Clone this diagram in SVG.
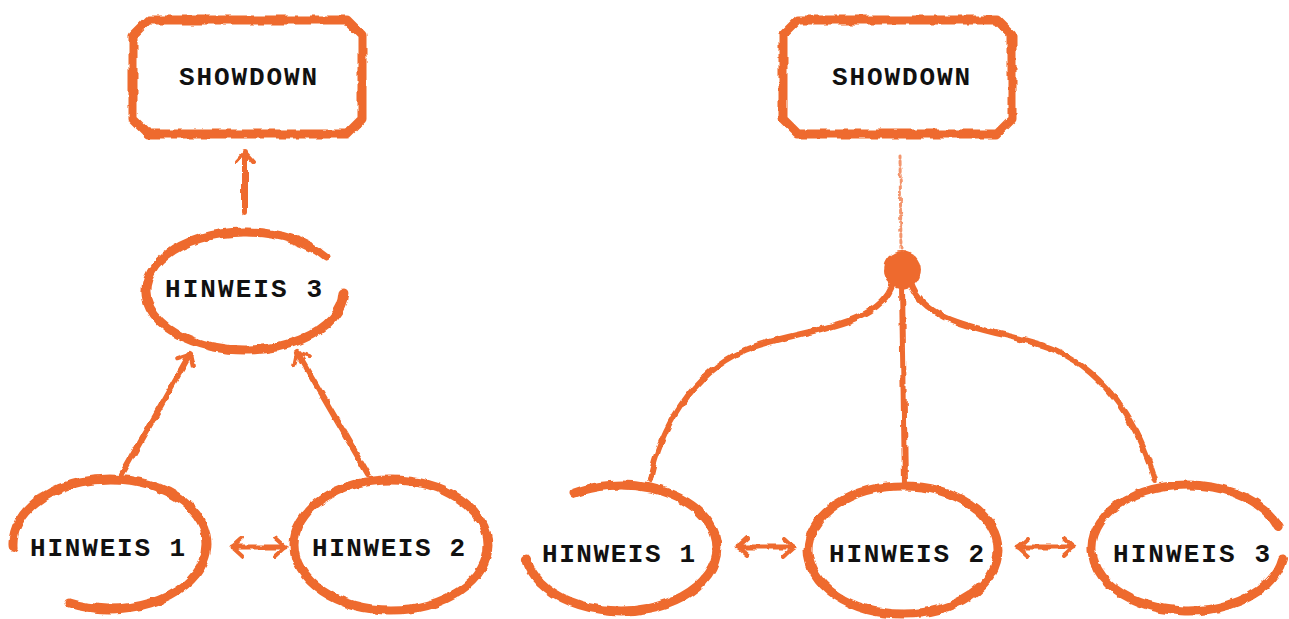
<svg xmlns="http://www.w3.org/2000/svg" width="1289" height="619" viewBox="0 0 1289 619">
<defs>
<style>
.s{fill:none;stroke:#EE6A2F;stroke-linecap:round;stroke-linejoin:round}
.b{stroke-width:9}
.c{stroke-width:6}
.t{font-family:"Liberation Mono","DejaVu Sans Mono",monospace;font-weight:bold;font-size:26px;fill:#111}
</style>
<filter id="rough" x="-5%" y="-5%" width="110%" height="110%">
<feTurbulence type="fractalNoise" baseFrequency="0.09" numOctaves="2" seed="4" result="n"/>
<feDisplacementMap in="SourceGraphic" in2="n" scale="5" xChannelSelector="R" yChannelSelector="G"/>
</filter>
<marker id="ah" viewBox="0 0 14 22" refX="12" refY="11" markerWidth="14" markerHeight="22" markerUnits="userSpaceOnUse" orient="auto-start-reverse">
<path d="M2,2 L12,11 L2,20" fill="none" stroke="#EE6A2F" stroke-width="4" stroke-linecap="round" stroke-linejoin="round"/>
</marker>
</defs>
<rect width="1289" height="619" fill="#fff"/>

<g id="connectors" filter="url(#rough)">
<path class="s c" d="M245,212 L245,152" marker-end="url(#ah)"/>
<path class="s c" d="M122,474 L190,354" marker-end="url(#ah)"/>
<path class="s c" d="M368,474 L297,352" marker-end="url(#ah)"/>
<path class="s" stroke-width="5" d="M232,547 L285,547" marker-start="url(#ah)" marker-end="url(#ah)"/>
<path class="s" stroke-width="5" d="M738,547 L794,547" marker-start="url(#ah)" marker-end="url(#ah)"/>
<path class="s" stroke-width="5" d="M1018,547 L1074,547" marker-start="url(#ah)" marker-end="url(#ah)"/>
<path class="s" stroke-width="3" stroke-dasharray="3 3" opacity="0.7" d="M900,156 L901,250"/>
<path class="s c" d="M893,283 C880,330 790,330 745,350 C690,375 660,430 650,480"/>
<path class="s c" d="M911,283 C925,330 1010,330 1055,350 C1110,375 1140,430 1155,480"/>
<path class="s c" d="M902,285 L905,485"/>
<circle cx="902" cy="270" r="19" fill="#EE6A2F"/>
</g>

<g id="showdown-left">
<path class="s b" filter="url(#rough)" d="M148,20 L347,20 L362,35 L362,119 L347,134 L148,134 L133,119 L133,35 Z"/>
<text class="t" x="248" y="85" text-anchor="middle" textLength="138" lengthAdjust="spacing">SHOWDOWN</text>
</g>
<g id="hinweis3-left">
<path class="s b" filter="url(#rough)" d="M343.9,293 A99 59 0 1 1 326.1,257.2"/>
<text class="t" x="165" y="297" textLength="157" lengthAdjust="spacing">HINWEIS 3</text>
</g>
<g id="hinweis1-left">
<path class="s b" filter="url(#rough)" d="M13.1,547.4 A97 65 0 1 1 69,602.9"/>
<text class="t" x="30" y="556" textLength="155" lengthAdjust="spacing">HINWEIS 1</text>
</g>
<g id="hinweis2-left">
<ellipse class="s b" filter="url(#rough)" cx="391" cy="545" rx="97" ry="65"/>
<text class="t" x="312" y="556" textLength="153" lengthAdjust="spacing">HINWEIS 2</text>
</g>

<g id="showdown-right">
<path class="s b" filter="url(#rough)" d="M798,20 L997,20 L1012,35 L1012,119 L997,134 L798,134 L783,119 L783,35 Z"/>
<text class="t" x="901" y="85" text-anchor="middle" textLength="138" lengthAdjust="spacing">SHOWDOWN</text>
</g>
<g id="hinweis1-right">
<path class="s b" filter="url(#rough)" d="M573,493.4 A96 63 0 1 1 526.4,559"/>
<text class="t" x="542" y="562" textLength="153" lengthAdjust="spacing">HINWEIS 1</text>
</g>
<g id="hinweis2-right">
<ellipse class="s b" filter="url(#rough)" cx="903" cy="550" rx="95" ry="64"/>
<text class="t" x="829" y="562" textLength="155" lengthAdjust="spacing">HINWEIS 2</text>
</g>
<g id="hinweis3-right">
<path class="s b" filter="url(#rough)" d="M1282.5,558.9 A96 63 0 1 1 1278.2,526.5"/>
<text class="t" x="1113" y="562" textLength="157" lengthAdjust="spacing">HINWEIS 3</text>
</g>
</svg>
